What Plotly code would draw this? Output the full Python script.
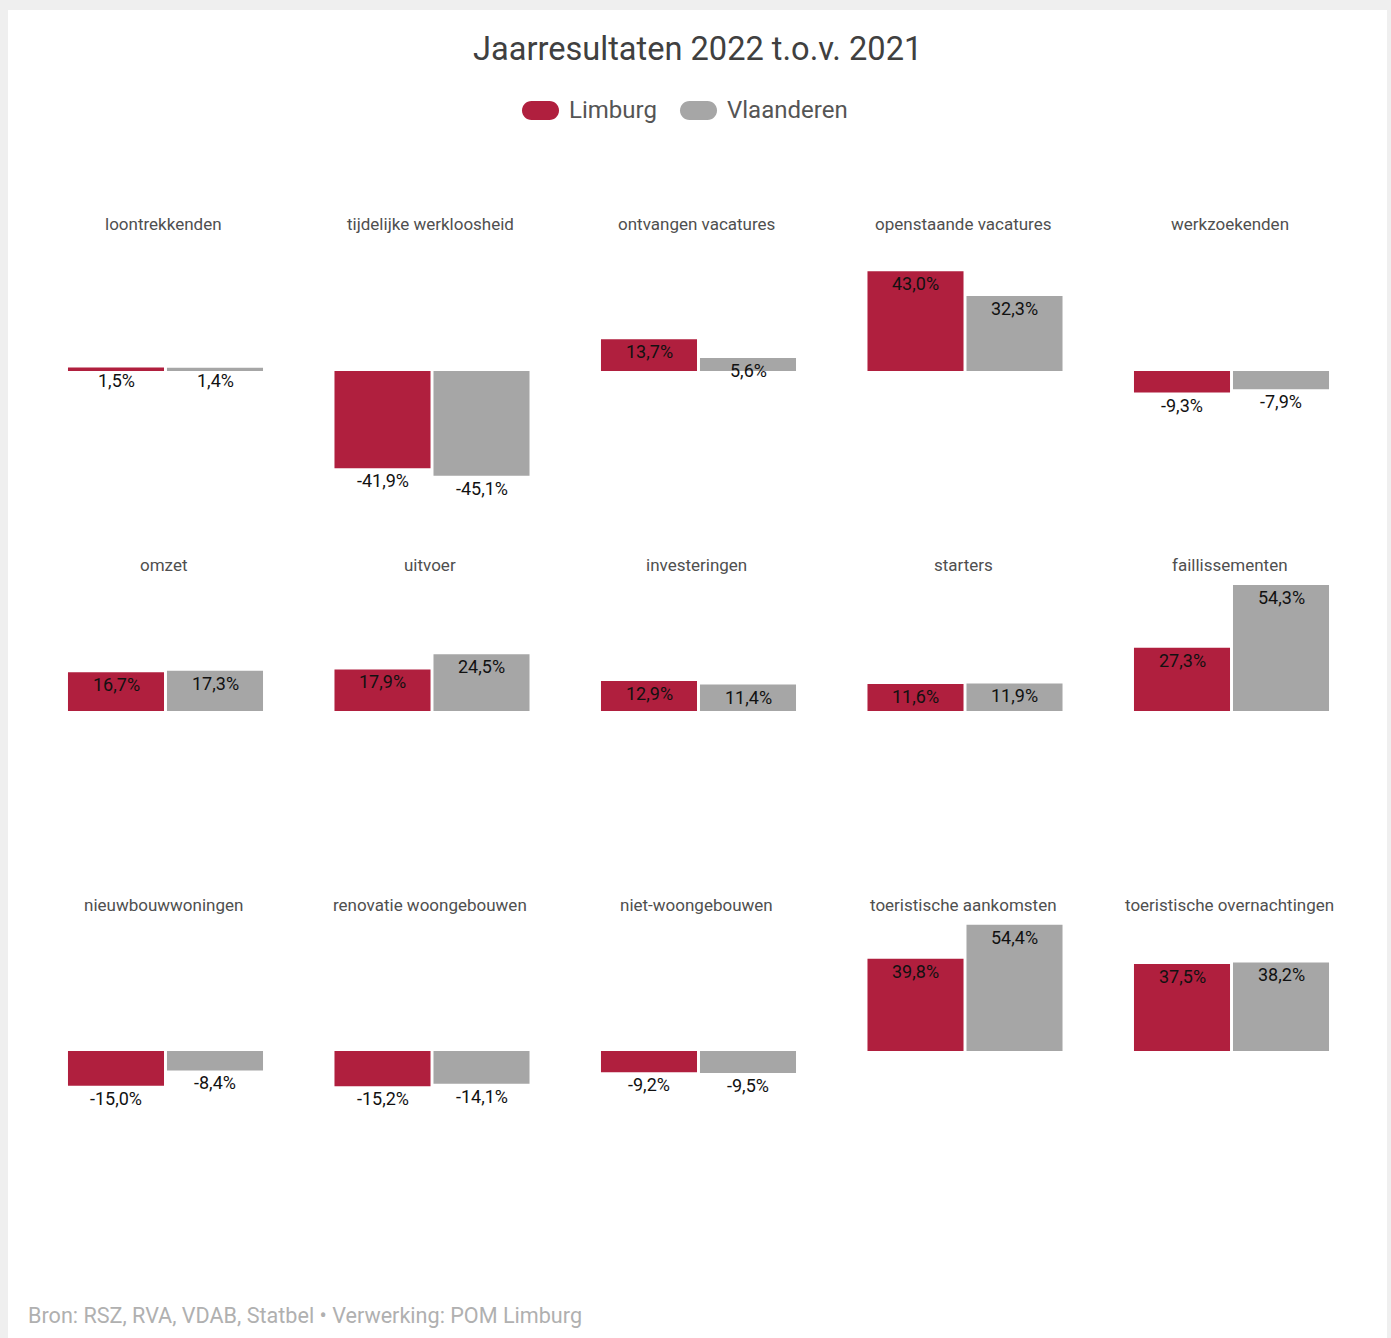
import plotly.graph_objects as go

# ---------------- data ----------------
title = "Jaarresultaten 2022 t.o.v. 2021"
series = ["Limburg", "Vlaanderen"]
categories = [
    "loontrekkenden", "tijdelijke werkloosheid", "ontvangen vacatures", "openstaande vacatures", "werkzoekenden",
    "omzet", "uitvoer", "investeringen", "starters", "faillissementen",
    "nieuwbouwwoningen", "renovatie woongebouwen", "niet-woongebouwen", "toeristische aankomsten", "toeristische overnachtingen",
]
limburg = [1.5, -41.9, 13.7, 43.0, -9.3,
           16.7, 17.9, 12.9, 11.6, 27.3,
           -15.0, -15.2, -9.2, 39.8, 37.5]
vlaanderen = [1.4, -45.1, 5.6, 32.3, -7.9,
              17.3, 24.5, 11.4, 11.9, 54.3,
              -8.4, -14.1, -9.5, 54.4, 38.2]
source = "Bron: RSZ, RVA, VDAB, Statbel \u2022 Verwerking: POM Limburg"

# ---------------- styling / layout constants ----------------
W, H = 1391, 1338
FONT = "Roboto"
colors = ["#b01f3e", "#a6a6a6"]
PX_PER_UNIT = 2.32
YR = 60
row_zero = [371, 711, 1051]
row_title = [224, 565, 905]
col_left, col_step, col_w = 66.5, 266.5, 198
NCOL = 5


def X(p):
    return p / W


def Y(p):
    return 1 - p / H


def fmt(v):
    return f"{v:.1f}".replace(".", ",") + "%"


fig = go.Figure()
annotations = []
layout_axes = {}

series_values = [limburg, vlaanderen]

for i, cat in enumerate(categories):
    r, c = divmod(i, NCOL)
    n = i + 1
    xa = "x" if n == 1 else f"x{n}"
    ya = "y" if n == 1 else f"y{n}"
    left = col_left + col_step * c
    z = row_zero[r]
    layout_axes["xaxis" if n == 1 else f"xaxis{n}"] = dict(
        domain=[X(left), X(left + col_w)], range=[-0.5, 1.5], type="category",
        categoryorder="array", categoryarray=series, visible=False, fixedrange=True, anchor=ya)
    layout_axes["yaxis" if n == 1 else f"yaxis{n}"] = dict(
        domain=[Y(z + YR * PX_PER_UNIT), Y(z - YR * PX_PER_UNIT)], range=[-YR, YR],
        visible=False, fixedrange=True, anchor=xa)

    for name, vals, col in zip(series, series_values, colors):
        v = vals[i]
        fig.add_trace(go.Bar(x=[name], y=[v], xaxis=xa, yaxis=ya, marker_color=col,
                             marker_line_width=0, name=name, showlegend=False,
                             hovertemplate=f"{cat}<br>{name}: {fmt(v)}<extra></extra>"))
        annotations.append(dict(x=name, y=v, xref=xa, yref=ya, text=fmt(v), showarrow=False,
                                yanchor="top", xanchor="center", yshift=0,
                                font=dict(family=FONT, size=18, color="#111111")))

    annotations.append(dict(x=X(left + col_w / 2 - 2), y=Y(row_title[r]), xref="paper", yref="paper",
                            text=cat, showarrow=False, xanchor="center", yanchor="middle",
                            font=dict(family=FONT, size=17, color="#4f4f4f")))

# title
annotations.append(dict(x=X(697), y=Y(49), xref="paper", yref="paper", text=title, showarrow=False,
                        xanchor="center", yanchor="middle",
                        font=dict(family=FONT, size=32.6, color="#404040")))
# footer
annotations.append(dict(x=X(26), y=Y(1315), xref="paper", yref="paper", text=source, showarrow=False,
                        xanchor="left", yanchor="middle",
                        font=dict(family=FONT, size=21.6, color="#b0b0b0")))


def pill_path(x0, y0, x1, y1):
    r = (y1 - y0) / 2
    k = 0.5523 * r
    return (f"M {X(x0 + r)} {Y(y0)} L {X(x1 - r)} {Y(y0)} "
            f"C {X(x1 - r + k)} {Y(y0)} {X(x1)} {Y(y0 + r - k)} {X(x1)} {Y(y0 + r)} "
            f"C {X(x1)} {Y(y1 - r + k)} {X(x1 - r + k)} {Y(y1)} {X(x1 - r)} {Y(y1)} "
            f"L {X(x0 + r)} {Y(y1)} "
            f"C {X(x0 + r - k)} {Y(y1)} {X(x0)} {Y(y1 - r + k)} {X(x0)} {Y(y0 + r)} "
            f"C {X(x0)} {Y(y0 + r - k)} {X(x0 + r - k)} {Y(y0)} {X(x0 + r)} {Y(y0)} Z")


shapes = [dict(type="rect", xref="paper", yref="paper", x0=X(8), x1=X(1387), y0=0, y1=Y(10),
               fillcolor="white", line_width=0, layer="below")]

legend_items = [(522, 567), (680, 725)]
for (px0, tx), name, col in zip(legend_items, series, colors):
    shapes.append(dict(type="path", xref="paper", yref="paper", path=pill_path(px0, 101, px0 + 37, 120),
                       fillcolor=col, line_width=0))
    annotations.append(dict(x=X(tx), y=Y(110), xref="paper", yref="paper", text=name, showarrow=False,
                            xanchor="left", yanchor="middle",
                            font=dict(family=FONT, size=24, color="#555555")))

fig.update_layout(
    width=W, height=H, margin=dict(l=0, r=0, t=0, b=0),
    paper_bgcolor="#efefef", plot_bgcolor="rgba(0,0,0,0)",
    bargap=0.03, barmode="group", showlegend=False,
    annotations=annotations, shapes=shapes,
    font=dict(family=FONT),
    **layout_axes,
)

fig.write_html("out.html", config={"displayModeBar": False},
               post_script="document.body.style.margin='0';document.body.style.background='#efefef';")
